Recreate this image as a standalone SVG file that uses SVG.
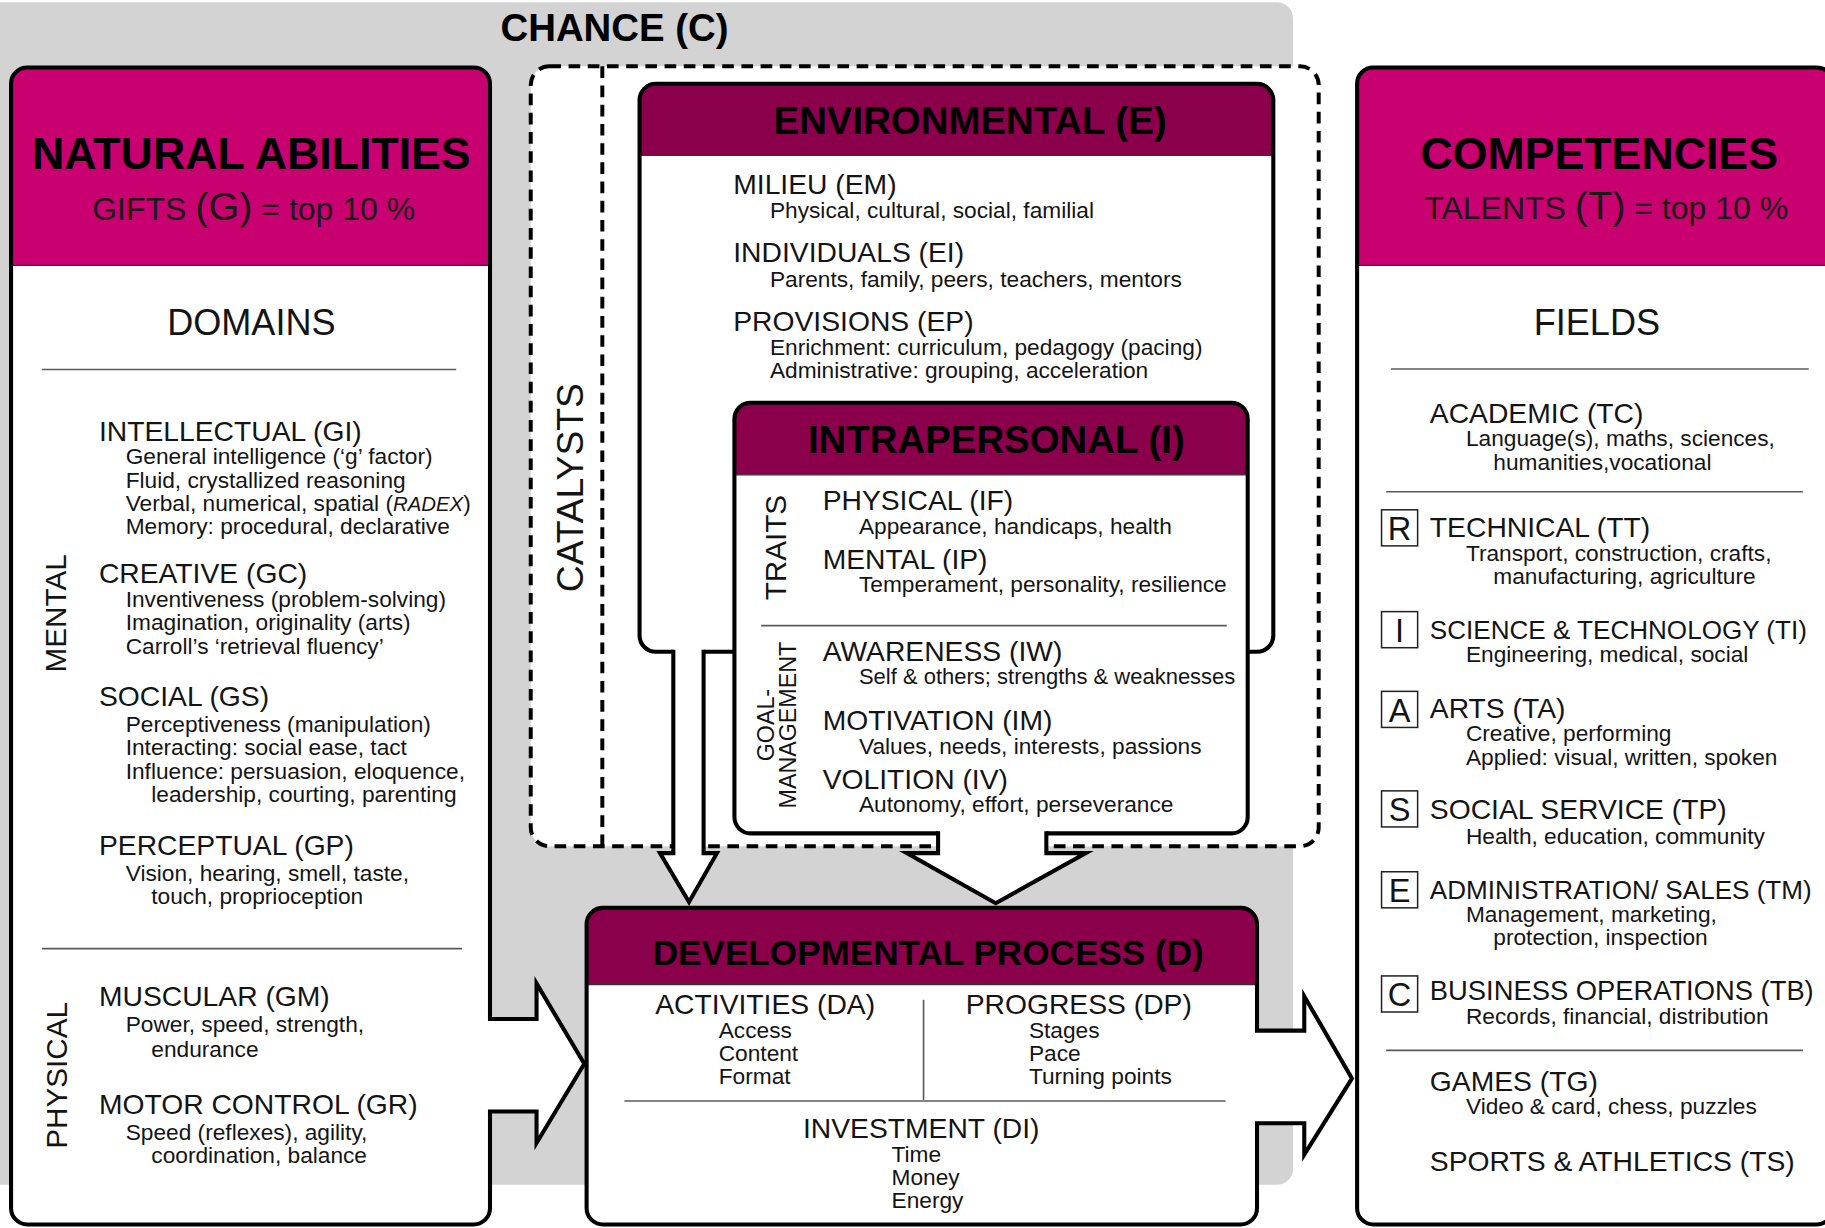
<svg xmlns="http://www.w3.org/2000/svg" width="1825" height="1228" viewBox="0 0 1825 1228">
<defs><style>
text{font-family:"Liberation Sans",Arial,Helvetica,sans-serif;fill:#141414}
.ti{font-size:38.4px;font-weight:bold;fill:#000}
.hd{font-size:33px;font-weight:bold;fill:#000}
.st{font-size:27.5px;fill:#1a1a1a}
.pg{font-size:34px}
.dm{font-size:31px}
.h{font-size:24.3px}
.s{font-size:19.5px}
.rt{font-size:25.5px}
.gm{font-size:20px}
.lt{font-size:28px;text-anchor:middle}
.mid{text-anchor:middle}
.wf{fill:#fff}
.ol{fill:none;stroke:#000;stroke-width:3.5}
.sep{stroke:#5a5a5a;stroke-width:1.4}
.hl{stroke:#333;stroke-width:1}
.dash{fill:none;stroke:#000;stroke-width:3.4;stroke-dasharray:10 6.5}
.mag{fill:#c9006f}
.mar{fill:#8b004b}
.rb{fill:#fff;stroke:#222;stroke-width:1.3}
.af{fill:#fff}
.arr{fill:none;stroke:#000;stroke-width:3.5;stroke-miterlimit:10}
</style></defs>
<rect width="1825" height="1228" fill="#fff"/>
<g transform="scale(1.1639)">

<g id="chance">
<path d="M0,2 H1097 A14,14 0 0 1 1111,16 V1004 A14,14 0 0 1 1097,1018 H0 Z" fill="#d3d3d3"/>
<text class="hd mid" x="528" y="35">CHANCE (C)</text>
</g>

<g id="catalysts">
<rect x="456" y="57" width="677" height="670" rx="16" fill="#fff"/>
<rect class="dash" x="456" y="57" width="677" height="670" rx="16"/>
<line class="dash" x1="517.5" y1="57" x2="517.5" y2="727"/>
<text class="mid" style="font-size:32px" transform="translate(501,419) rotate(-90)">CATALYSTS</text>
</g>

<g id="environmental">
<path class="wf" d="M563.5,72 H1080 A14,14 0 0 1 1094,86 V546 A14,14 0 0 1 1080,560 H563.5 A14,14 0 0 1 549.5,546 V86 A14,14 0 0 1 563.5,72 Z"/>
<path class="mar" d="M563.5,72 H1080 A14,14 0 0 1 1094,86 V133.5 H549.5 V86 A14,14 0 0 1 563.5,72 Z"/>
<line class="hl" x1="549.5" y1="133.5" x2="1094" y2="133.5"/>
<path class="ol" d="M563.5,72 H1080 A14,14 0 0 1 1094,86 V546 A14,14 0 0 1 1080,560 H563.5 A14,14 0 0 1 549.5,546 V86 A14,14 0 0 1 563.5,72 Z"/>
<text class="hd mid" x="833.5" y="115">ENVIRONMENTAL (E)</text>
<text class="h" x="630" y="166.5">MILIEU (EM)</text>
<text class="s" x="661.5" y="187.5">Physical, cultural, social, familial</text>
<text class="h" x="630" y="225">INDIVIDUALS (EI)</text>
<text class="s" x="661.5" y="246.5">Parents, family, peers, teachers, mentors</text>
<text class="h" x="630" y="284">PROVISIONS (EP)</text>
<text class="s" x="661.5" y="305">Enrichment: curriculum, pedagogy (pacing)</text>
<text class="s" x="661.5" y="324.5">Administrative: grouping, acceleration</text>
</g>

<g id="intrapersonal">
<path class="wf" d="M645,346 H1058 A14,14 0 0 1 1072,360 V702 A14,14 0 0 1 1058,716 H645 A14,14 0 0 1 631,702 V360 A14,14 0 0 1 645,346 Z"/>
<path class="mar" d="M645,346 H1058 A14,14 0 0 1 1072,360 V408 H631 V360 A14,14 0 0 1 645,346 Z"/>
<line class="hl" x1="631" y1="408" x2="1072" y2="408"/>
<path class="ol" d="M645,346 H1058 A14,14 0 0 1 1072,360 V702 A14,14 0 0 1 1058,716 H645 A14,14 0 0 1 631,702 V360 A14,14 0 0 1 645,346 Z"/>
<text class="hd mid" x="856" y="389">INTRAPERSONAL (I)</text>
<text class="rt mid" transform="translate(675,470.5) rotate(-90)">TRAITS</text>
<text class="gm mid" transform="translate(665,623) rotate(-90)">GOAL-</text>
<text class="gm mid" transform="translate(683.6,623) rotate(-90)">MANAGEMENT</text>
<text class="h" x="706.8" y="438">PHYSICAL (IF)</text>
<text class="s" x="738" y="458.5">Appearance, handicaps, health</text>
<text class="h" x="706.8" y="488.5">MENTAL (IP)</text>
<text class="s" x="738" y="508.5">Temperament, personality, resilience</text>
<line class="sep" x1="654" y1="537.5" x2="1054" y2="537.5"/>
<text class="h" x="706.8" y="567.5">AWARENESS (IW)</text>
<text class="s" x="738" y="588" style="font-size:18.9px">Self &amp; others; strengths &amp; weaknesses</text>
<text class="h" x="706.8" y="627.5">MOTIVATION (IM)</text>
<text class="s" x="738" y="648">Values, needs, interests, passions</text>
<text class="h" x="706.8" y="678">VOLITION (IV)</text>
<text class="s" x="738" y="698">Autonomy, effort, perseverance</text>
</g>

<g id="natural-abilities">
<path class="wf" d="M23.5,58 H407 A14,14 0 0 1 421,72 V1038 A14,14 0 0 1 407,1052 H23.5 A14,14 0 0 1 9.5,1038 V72 A14,14 0 0 1 23.5,58 Z"/>
<path class="mag" d="M23.5,58 H407 A14,14 0 0 1 421,72 V228 H9.5 V72 A14,14 0 0 1 23.5,58 Z"/>
<line class="hl" x1="9.5" y1="228" x2="421" y2="228"/>
<path class="ol" d="M23.5,58 H407 A14,14 0 0 1 421,72 V1038 A14,14 0 0 1 407,1052 H23.5 A14,14 0 0 1 9.5,1038 V72 A14,14 0 0 1 23.5,58 Z"/>
<text class="ti mid" x="216" y="145">NATURAL ABILITIES</text>
<text class="st mid" x="218" y="189">GIFTS <tspan class="pg">(G)</tspan> = top 10 %</text>
<text class="dm mid" x="216" y="288">DOMAINS</text>
<line class="sep" x1="36" y1="317.5" x2="392" y2="317.5"/>
<text class="rt mid" transform="translate(57,527) rotate(-90)">MENTAL</text>
<text class="rt mid" transform="translate(57.5,924) rotate(-90)">PHYSICAL</text>
<text class="h" x="85" y="379">INTELLECTUAL (GI)</text>
<text class="s" x="108" y="399">General intelligence (‘g’ factor)</text>
<text class="s" x="108" y="419">Fluid, crystallized reasoning</text>
<text class="s" x="108" y="439">Verbal, numerical, spatial (<tspan font-style="italic" font-size="17.5">RADEX</tspan>)</text>
<text class="s" x="108" y="459">Memory: procedural, declarative</text>
<text class="h" x="85" y="500.5">CREATIVE (GC)</text>
<text class="s" x="108" y="521.5">Inventiveness (problem-solving)</text>
<text class="s" x="108" y="541.5">Imagination, originality (arts)</text>
<text class="s" x="108" y="561.5">Carroll’s ‘retrieval fluency’</text>
<text class="h" x="85" y="607">SOCIAL (GS)</text>
<text class="s" x="108" y="628.5">Perceptiveness (manipulation)</text>
<text class="s" x="108" y="649">Interacting: social ease, tact</text>
<text class="s" x="108" y="669">Influence: persuasion, eloquence,</text>
<text class="s" x="130" y="689">leadership, courting, parenting</text>
<text class="h" x="85" y="735">PERCEPTUAL (GP)</text>
<text class="s" x="108" y="757">Vision, hearing, smell, taste,</text>
<text class="s" x="130" y="777">touch, proprioception</text>
<line class="sep" x1="36" y1="815" x2="397" y2="815"/>
<text class="h" x="85" y="864.5">MUSCULAR (GM)</text>
<text class="s" x="108" y="887">Power, speed, strength,</text>
<text class="s" x="130" y="908.5">endurance</text>
<text class="h" x="85" y="957">MOTOR CONTROL (GR)</text>
<text class="s" x="108" y="979.5">Speed (reflexes), agility,</text>
<text class="s" x="130" y="999">coordination, balance</text>
</g>

<g id="competencies">
<path class="wf" d="M1180,58 H1561 A14,14 0 0 1 1575,72 V1038 A14,14 0 0 1 1561,1052 H1180 A14,14 0 0 1 1166,1038 V72 A14,14 0 0 1 1180,58 Z"/>
<path class="mag" d="M1180,58 H1561 A14,14 0 0 1 1575,72 V228 H1166 V72 A14,14 0 0 1 1180,58 Z"/>
<line class="hl" x1="1166" y1="228" x2="1575" y2="228"/>
<path class="ol" d="M1180,58 H1561 A14,14 0 0 1 1575,72 V1038 A14,14 0 0 1 1561,1052 H1180 A14,14 0 0 1 1166,1038 V72 A14,14 0 0 1 1180,58 Z"/>
<text class="ti mid" x="1374" y="145">COMPETENCIES</text>
<text class="st mid" x="1380" y="188">TALENTS <tspan class="pg">(T)</tspan> = top 10 %</text>
<text class="dm mid" x="1372" y="288">FIELDS</text>
<line class="sep" x1="1195" y1="317" x2="1554" y2="317"/>
<text class="h" x="1228.5" y="363.5">ACADEMIC (TC)</text>
<text class="s" x="1259.5" y="383.5">Language(s), maths, sciences,</text>
<text class="s" x="1283" y="403.5">humanities,vocational</text>
<line class="sep" x1="1191" y1="422.5" x2="1549" y2="422.5"/>
<rect class="rb" x="1187" y="438" width="31" height="31"/><text class="lt" x="1202.5" y="464">R</text>
<text class="h" x="1228.5" y="461.5">TECHNICAL (TT)</text>
<text class="s" x="1259.5" y="482">Transport, construction, crafts,</text>
<text class="s" x="1283" y="501.5">manufacturing, agriculture</text>
<rect class="rb" x="1187" y="525.5" width="31" height="31"/><text class="lt" x="1202.5" y="551.5">I</text>
<text class="h" x="1228.5" y="549" style="font-size:22.4px">SCIENCE &amp; TECHNOLOGY (TI)</text>
<text class="s" x="1259.5" y="569">Engineering, medical, social</text>
<rect class="rb" x="1187" y="594" width="31" height="31"/><text class="lt" x="1202.5" y="620">A</text>
<text class="h" x="1228.5" y="616.5">ARTS (TA)</text>
<text class="s" x="1259.5" y="637">Creative, performing</text>
<text class="s" x="1259.5" y="657">Applied: visual, written, spoken</text>
<rect class="rb" x="1187" y="679.5" width="31" height="31"/><text class="lt" x="1202.5" y="705.5">S</text>
<text class="h" x="1228.5" y="704">SOCIAL SERVICE (TP)</text>
<text class="s" x="1259.5" y="725">Health, education, community</text>
<rect class="rb" x="1187" y="749" width="31" height="31"/><text class="lt" x="1202.5" y="775">E</text>
<text class="h" x="1228.5" y="772" style="font-size:22.4px">ADMINISTRATION/ SALES (TM)</text>
<text class="s" x="1259.5" y="792">Management, marketing,</text>
<text class="s" x="1283" y="812">protection, inspection</text>
<rect class="rb" x="1187" y="838.5" width="31" height="31"/><text class="lt" x="1202.5" y="864.5">C</text>
<text class="h" x="1228.5" y="859.5" style="font-size:23.5px">BUSINESS OPERATIONS (TB)</text>
<text class="s" x="1259.5" y="879.5">Records, financial, distribution</text>
<line class="sep" x1="1191" y1="902.5" x2="1549" y2="902.5"/>
<text class="h" x="1228.5" y="937">GAMES (TG)</text>
<text class="s" x="1259.5" y="957">Video &amp; card, chess, puzzles</text>
<text class="h" x="1228.5" y="1006.5">SPORTS &amp; ATHLETICS (TS)</text>
</g>

<g id="developmental">
<path class="wf" d="M518,780 H1066 A14,14 0 0 1 1080,794 V1038 A14,14 0 0 1 1066,1052 H518 A14,14 0 0 1 504,1038 V794 A14,14 0 0 1 518,780 Z"/>
<path class="mar" d="M518,780 H1066 A14,14 0 0 1 1080,794 V846 H504 V794 A14,14 0 0 1 518,780 Z"/>
<line class="hl" x1="504" y1="846" x2="1080" y2="846"/>
<path class="ol" d="M518,780 H1066 A14,14 0 0 1 1080,794 V1038 A14,14 0 0 1 1066,1052 H518 A14,14 0 0 1 504,1038 V794 A14,14 0 0 1 518,780 Z"/>
<text class="hd mid" x="797.5" y="829" style="font-size:30.2px">DEVELOPMENTAL PROCESS (D)</text>
<text class="h" x="563" y="871">ACTIVITIES (DA)</text>
<text class="s" x="617.5" y="891.5">Access</text>
<text class="s" x="617.5" y="911.5">Content</text>
<text class="s" x="617.5" y="931.5">Format</text>
<line class="sep" x1="793.5" y1="859" x2="793.5" y2="945"/>
<text class="h" x="829.7" y="871">PROGRESS (DP)</text>
<text class="s" x="884" y="891.5">Stages</text>
<text class="s" x="884" y="911.5">Pace</text>
<text class="s" x="884" y="931.5">Turning points</text>
<line class="sep" x1="536.5" y1="946" x2="1053" y2="946"/>
<text class="h mid" x="791.5" y="978">INVESTMENT (DI)</text>
<text class="s" x="766" y="998">Time</text>
<text class="s" x="766" y="1018">Money</text>
<text class="s" x="766" y="1038">Energy</text>
</g>

<g id="connectors">
<polygon class="af" points="578.5,556 578.5,733 567,733 592,775 616,733 604.5,733 604.5,556"/>
<path class="arr" d="M578.5,558.25 V733 H567 L592,775 L616,733 H604.5 V558.25"/>
<polygon class="af" points="806,712 806,733 779,733 855.5,776 933,733 899,733 899,712"/>
<path class="arr" d="M806,714.25 V733 H779 L855.5,776 L933,733 H899 V714.25"/>
<polygon class="af" points="418,875.5 461,875.5 461,845 502,914 461,982 461,955 418,955"/>
<path class="arr" d="M419.25,875.5 H461 V845 L502,914 L461,982 V955 H419.25"/>
<polygon class="af" points="1076,885.5 1120.6,885.5 1120.6,856 1161.6,926.5 1120.6,992 1120.6,965 1076,965"/>
<path class="arr" d="M1078.25,885.5 H1120.6 V856 L1161.6,926.5 L1120.6,992 V965 H1078.25"/>
</g>

</g>
</svg>
